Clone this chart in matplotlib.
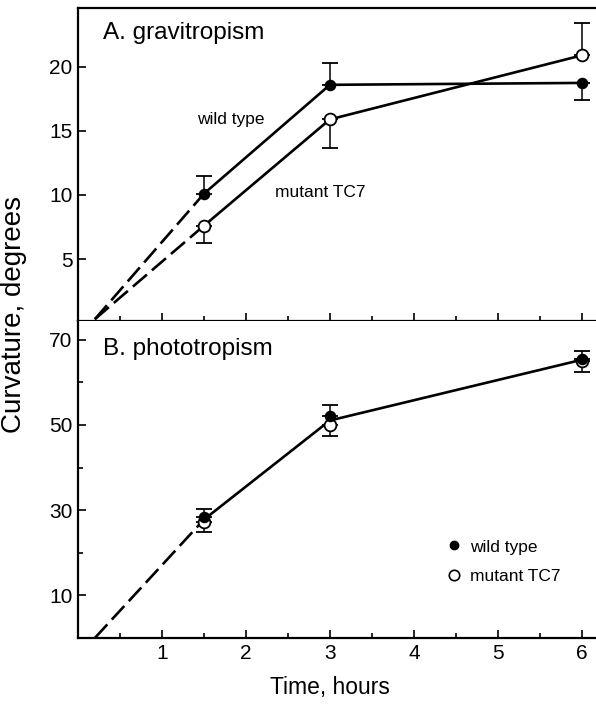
import matplotlib

matplotlib.use("Agg")
import matplotlib.pyplot as plt
import numpy as np
from matplotlib.lines import Line2D
from matplotlib.ticker import FixedLocator, MultipleLocator

plt.rcParams["font.family"] = ["Liberation Sans", "DejaVu Sans"]

# Sampling times (hours) and the extrapolated onset of bending
hours = [1.5, 3, 6]
onset = (0.2, 0.3)

# A. gravitropism (degrees), one-sided error bars
grav_wt = [10.1, 18.6, 18.75]
grav_wt_lo = [0, 0, 1.35]
grav_wt_hi = [1.4, 1.7, 0]
grav_tc7 = [7.6, 15.9, 20.9]
grav_tc7_lo = [1.35, 2.2, 0]
grav_tc7_hi = [0, 0, 2.5]

# B. phototropism (degrees)
photo_wt = [28.4, 52.1, 65.5]
photo_wt_lo = [0, 0, 0]
photo_wt_hi = [1.8, 2.6, 1.9]
photo_tc7 = [27.2, 50.0, 65.1]
photo_tc7_lo = [2.4, 2.6, 2.7]
photo_tc7_hi = [0, 0, 0]

LW = 1.9
DASH = (7, 2.5)

fig = plt.figure(figsize=(5.96, 7.06), dpi=100)
ax1 = fig.add_axes([0.1309, 0.5453, 0.8691, 0.4434])
ax2 = fig.add_axes([0.1309, 0.0963, 0.8691, 0.4490])


def draw_series(ax, y, lo, hi, filled, line=True):
    if line:
        ax.plot(hours, y, color="black", lw=LW, zorder=2)
        ax.plot([onset[0], hours[0]], [onset[1], y[0]], color="black", lw=LW, dashes=DASH, zorder=2)
    ax.errorbar(
        hours, y, yerr=[lo, hi], fmt="o", color="black",
        mfc="black" if filled else "white", mec="black",
        ms=7 if filled else 8.5, mew=1.3, elinewidth=1.1,
        capsize=6, capthick=1.1, zorder=3 if filled else 2.5,
    )


# top panel
draw_series(ax1, grav_tc7, grav_tc7_lo, grav_tc7_hi, filled=False)
draw_series(ax1, grav_wt, grav_wt_lo, grav_wt_hi, filled=True)
ax1.set_xlim(0, 6.17)
ax1.set_ylim(0.16, 24.6)
ax1.set_yticks([5, 10, 15, 20])
ax1.xaxis.set_major_locator(FixedLocator([1, 2, 3, 4, 5, 6]))
ax1.xaxis.set_minor_locator(MultipleLocator(0.5))
ax1.tick_params(axis="x", labelbottom=False)
ax1.spines["right"].set_visible(False)
ax1.text(0.048, 0.92, "A. gravitropism", transform=ax1.transAxes, fontsize=17.5, va="center", ha="left")
ax1.text(1.82, 15.9, "wild type", fontsize=12.5, ha="center", va="center")
ax1.text(2.88, 10.2, "mutant TC7", fontsize=12.5, ha="center", va="center")

# bottom panel: one line through both strains
photo_mean = np.mean([photo_wt, photo_tc7], axis=0)
ax2.plot(hours, photo_mean, color="black", lw=LW, zorder=2)
ax2.plot([onset[0], hours[0]], [0, photo_mean[0]], color="black", lw=LW, dashes=DASH, zorder=2)
draw_series(ax2, photo_tc7, photo_tc7_lo, photo_tc7_hi, filled=False, line=False)
draw_series(ax2, photo_wt, photo_wt_lo, photo_wt_hi, filled=True, line=False)
ax2.set_xlim(0, 6.17)
ax2.set_ylim(0, 74.4)
ax2.set_yticks([10, 30, 50, 70])
ax2.yaxis.set_minor_locator(FixedLocator([20, 40, 60]))
ax2.xaxis.set_major_locator(FixedLocator([1, 2, 3, 4, 5, 6]))
ax2.xaxis.set_minor_locator(MultipleLocator(0.5))
ax2.spines["right"].set_visible(False)
ax2.spines["top"].set_visible(False)
ax2.text(0.048, 0.911, "B. phototropism", transform=ax2.transAxes, fontsize=17.5, va="center", ha="left")

handles = [
    Line2D([], [], ls="none", marker="o", color="black", mfc="black", ms=6),
    Line2D([], [], ls="none", marker="o", color="black", mfc="white", ms=7.5, mew=1.2),
]
ax2.legend(handles, ["wild type", "mutant TC7"], loc="center left", bbox_to_anchor=(0.683, 0.24),
           frameon=False, fontsize=12.5, handlelength=0.8, handletextpad=0.5, labelspacing=0.85)

for ax in (ax1, ax2):
    ax.tick_params(which="both", direction="in", width=1.2, labelsize=15)
    ax.tick_params(which="major", length=6, pad=4)
    ax.tick_params(which="minor", length=3.5)
    for s in ax.spines.values():
        s.set_linewidth(1.6)

fig.text(0.024, 0.554, "Curvature, degrees", rotation=90, fontsize=20, ha="center", va="center")
fig.text(0.553, 0.0255, "Time, hours", fontsize=16.5, ha="center", va="center")

fig.savefig("out.png", dpi=100)
